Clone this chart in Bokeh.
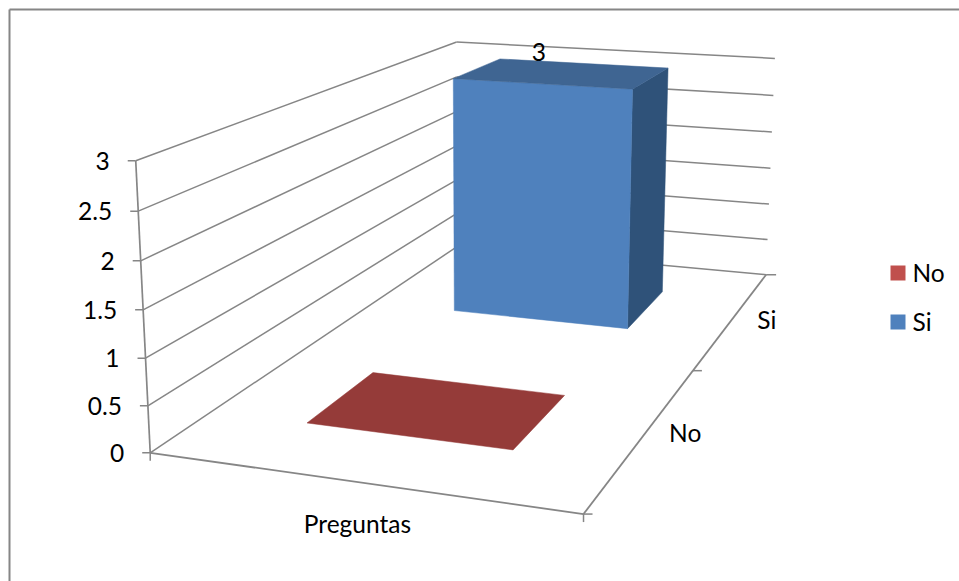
import numpy as np
from bokeh.embed import file_html
from bokeh.models import ColumnDataSource, Range1d
from bokeh.plotting import figure
from bokeh.resources import INLINE
from bokeh.core.properties import value

# Chart data
series_names = ["No", "Si"]
series_values = [0, 3]
category_label = "Preguntas"
value_ticks = [0, 0.5, 1, 1.5, 2, 2.5, 3]
value_tick_labels = ["0", "0.5", "1", "1.5", "2", "2.5", "3"]
data_labels = ["", "3"]

FONT = value("Lato")
FONT_SIZE = "24.5px"
GREY = "#868686"
FRONT = {"No": "#C0504D", "Si": "#4F81BD"}
TOP = {"No": "#953B39", "Si": "#3F6592"}
SIDE = {"No": "#7F2F2D", "Si": "#2F5279"}

# Bar extents inside the unit floor: across, then depth for each series
BAR_X = (0.245, 0.75)
BAR_DEPTH = {"No": (0.15, 0.35), "Si": (0.65, 0.85)}
# Depth-axis label offsets from the axis line
DEPTH_LABEL_OFFSET = {"No": (41, -2), "Si": (34, 1)}

# Camera: least-squares projective fit from the box corners (x, depth, value) to the page
box_3d = np.array([[0, 0, 0], [1, 0, 0], [1, 1, 0], [0, 1, 0], [0, 0, 3], [0, 1, 3], [1, 1, 3]], float)
box_px = np.array([[149, 453], [583, 513], [765, 275], [458, 245], [136, 160], [455, 42], [775, 57.5]], float)
rows, rhs = [], []
for (X, Y, Z), (u, v) in zip(box_3d, box_px):
    rows.append([X, Y, Z, 1, 0, 0, 0, 0, -u * X, -u * Y, -u * Z]); rhs.append(u)
    rows.append([0, 0, 0, 0, X, Y, Z, 1, -v * X, -v * Y, -v * Z]); rhs.append(v)
cam = np.append(np.linalg.lstsq(np.array(rows), np.array(rhs), rcond=None)[0], 1).reshape(3, 4)


def project(x, d, z):
    u, v, w = cam @ np.array([x, d, z, 1.0])
    return float(u / w), float(v / w)


p = figure(width=959, height=581, x_range=Range1d(0, 959), y_range=Range1d(581, 0),
           output_backend="svg", toolbar_location=None, min_border=0,
           background_fill_color="white", border_fill_color="white", outline_line_color=None)
p.axis.visible = False
p.grid.visible = False

# Outer chart frame
p.line([9, 9], [581, 9], line_color=GREY, line_width=2)
p.line([9, 959], [9, 9], line_color=GREY, line_width=2)


def seg(a, b, width=1.5):
    p.line([a[0], b[0]], [a[1], b[1]], line_color=GREY, line_width=width)


def label(x, y, txt, align="center"):
    p.text([x], [y], [txt], text_font=FONT, text_font_size=FONT_SIZE, text_align=align,
           text_baseline="middle", text_color="black")


# Gridlines on the side and back walls
for z, txt in zip(value_ticks, value_tick_labels):
    a = project(0, 0, z)
    b = project(0, 1, z)
    c = project(1, 1, z)
    seg(a, b)
    seg(b, c)
    seg((a[0] - 8, a[1]), a)
    label(a[0] - 26, a[1], txt, "right")

# Axis lines and tick marks
seg(project(0, 0, 0), project(0, 0, 3), 1.7)
seg(project(0, 0, 0), project(1, 0, 0), 1.8)
seg(project(1, 0, 0), project(1, 1, 0), 1.8)
seg(project(1, 1, 0), (project(1, 1, 0)[0] + 10, project(1, 1, 0)[1]))
for d in (0, 0.5):
    q = project(1, d, 0)
    seg(q, (q[0] + 9, q[1]))
for x in (0, 1):
    q = project(x, 0, 0)
    seg(q, (q[0], q[1] + 8))

# Bars, back series first
for name, val, lab in reversed(list(zip(series_names, series_values, data_labels))):
    x0, x1 = BAR_X
    d0, d1 = BAR_DEPTH[name]
    faces = []
    if val > 0:
        faces.append(([(x1, d0, 0), (x1, d1, 0), (x1, d1, val), (x1, d0, val)], SIDE[name]))
        faces.append(([(x0, d0, 0), (x1, d0, 0), (x1, d0, val), (x0, d0, val)], FRONT[name]))
    faces.append(([(x0, d0, val), (x1, d0, val), (x1, d1, val), (x0, d1, val)], TOP[name]))
    for pts, col in faces:
        xy = [project(*q) for q in pts]
        src = ColumnDataSource(dict(x=[q[0] for q in xy], y=[q[1] for q in xy]))
        p.patch("x", "y", source=src, fill_color=col, line_color=col, line_width=0.5)
    if lab:
        top = project((x0 + x1) / 2, (d0 + d1) / 2, val)
        label(top[0] - 24, top[1] - 21, lab)

# Category and series labels under the floor
front_mid = project(0.5, 0, 0)
label(front_mid[0], front_mid[1] + 41, category_label)
for name, (d0, d1) in BAR_DEPTH.items():
    q = project(1, (d0 + d1) / 2, 0)
    dx, dy = DEPTH_LABEL_OFFSET[name]
    label(q[0] + dx, q[1] + dy, name)

# Legend
for i, name in enumerate(series_names):
    y = 272.5 + i * 49
    p.rect([897.5], [y], width=15, height=15, fill_color=FRONT[name], line_color=None)
    label(912, y - 1, name, "left")

open("out.html", "w").write(file_html(p, INLINE))
